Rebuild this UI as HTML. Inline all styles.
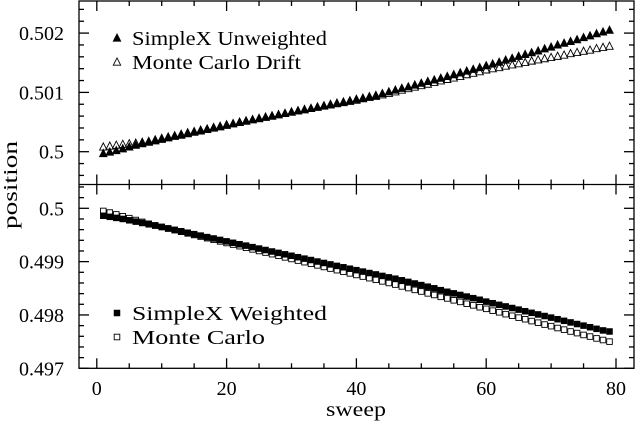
<!DOCTYPE html>
<html><head><meta charset="utf-8"><style>
html,body{margin:0;padding:0;background:#fff;}
svg{display:block;font-family:"Liberation Serif",serif;}
</style></head><body>
<svg id="chart" width="636" height="427" viewBox="0 0 636 427" xmlns="http://www.w3.org/2000/svg">
<g id="axes"></g>
<g id="marks"></g>
<g id="labels"></g>
</svg>
<script>
// sweep index values
const sweeps = Array.from({length:79},(_, i)=>i+1);
// Top panel: offsets from 0.5 in units of 1e-5
const unweightedE5 = [-3,-0.5,2,5,8,11,13.5,16,18.5,21,23.5,26,28,30.5,33,35,37.5,40,42,44.5,47,49.5,51.5,54,56,58,60,62.5,64.5,67,69,71,73,75.5,77.5,80,82,84,86,88.5,90.5,93,95,98,
101,104,107,109.5,112.5,115.5,118.5,121,124,127,130,133,136,139,142,145,
148,151,154.5,157.5,161,164,167,170,173.5,176.5,180,183,186,189,192.5,195.5,199,202,205];
const driftE5 = [8,9.5,11,12.5,13.5,14.5,16,17.5,20,22.5,25,27,29.5,32,34,36.5,38.5,41,43,45.5,47.5,50,52,54,56,58.5,60.5,62.5,64.5,67,69,71,73,75,77,79,81,83,85,87,89.5,91.5,93.5,96,
98.5,101,104,106.5,109,111.5,114,117,119.5,122,124.5,127,130,132.5,135,138,
140,142,144.5,146.5,148.5,150.5,153,155,157,159,161,163,165.5,167.5,169.5,171.5,174,176,178];
// Bottom panel: offsets from 0.5 in units of 1e-5
const weightedE5 = [-14,-16,-18,-20,-22.5,-25,-27.5,-30,-32.5,-35,
-37.7,-40.4,-43,-45.8,-48.5,-51.2,-54,-56.6,-59.3,-62,-64.7,-67.4,-70,-72.8,-75.5,-78.2,-81,-83.6,-86.3,-89,-91.7,-94.4,-97,-99.8,-102.5,-105.2,-108,-110.6,-113.3,-116,-118.7,-121.4,-124,-126.8,-129.5,-132,
-135,-138,-141,-144,-147,-150,-153.5,-156.5,-159.5,-162.5,-165.5,-168.5,-171.5,-175,-178,-181,-184,-187,-190,-193,-196,-199,-202,-205,-208,-211,-214,-217,-220,-223,-226,-229,-231];
const monteCarloE5 = [-5,-8,-11.5,-15,-18.5,-22,-25.5,-29,
-32,-35,-38,-41,-44,-47,-50,-53,-56,-59,-62,-65,-68,-71,-74,-77,-80,-83,-86,-89,-92,-95,-98,-101,-104,-107,-110,-113,-116,-119,-122,-125,-128,-131,-134,-137,-140,-143,
-146.5,-149.5,-153,-156,-159.5,-162.5,-166,-169,-172.5,-175.5,-179,-182,-185.5,-188.5,-192,-195,-198.5,-201.5,-205,-208,-211.5,-214.5,-218,-221,-224.5,-227.5,-231,-234,-237.5,-240.5,-244,-247,-250];
const xTickLabels = ["0","20","40","60","80"];
const topTickLabels = ["0.5","0.501","0.502"];
const botTickLabels = ["0.497","0.498","0.499","0.5"];

const NS="http://www.w3.org/2000/svg";
const L=79,R=634,T=1,M=184.5,B=368.3;
const X=v=>96.8+6.49*v;
const YT=v=>151.7-(v-0.5)*59300;
const YB=v=>208.3-(v-0.5)*53330;
function mk(tag,attrs,parent){const e=document.createElementNS(NS,tag);for(const k in attrs)e.setAttribute(k,attrs[k]);parent.appendChild(e);return e;}
const axes=document.getElementById('axes'),marks=document.getElementById('marks'),labels=document.getElementById('labels');
const st={stroke:'#000','stroke-width':1.3,fill:'none'};
let fr=mk('rect',Object.assign({x:L,y:T,width:R-L,height:B-T},st),axes);


let mid=mk('line',Object.assign({x1:L,x2:R,y1:M,y2:M},st),axes);


for(let v=0;v<=80;v+=5){
  const major=v%20===0, len=major?10:5, x=X(v);
  [[T,1],[M,-1],[M,1],[B,-1]].forEach(([y,d])=>{
    const t=mk('line',Object.assign({x1:x,x2:x,y1:y,y2:y+d*len},st),axes);
    
    
  });
}
function yTicks(lo,hi,f,top,bot){
  for(let i=Math.round(lo/0.0002);i<=Math.round(hi/0.0002);i++){
    const v=i*0.0002,y=f(v);if(y<top-0.5||y>bot+0.5)continue;
    const major=Math.abs(v*1000-Math.round(v*1000))<1e-6,len=major?10:5;
    [[L,1],[R,-1]].forEach(([x,d])=>{
      const t=mk('line',Object.assign({x1:x,x2:x+d*len,y1:y,y2:y},st),axes);
      
      
    });
  }
}
yTicks(0.4994,0.5026,YT,T,M);
yTicks(0.4968,0.5006,YB,M,B);
function txt(s,x,y,anchor,name,extra){const e=mk('text',Object.assign({x:x,y:y,'text-anchor':anchor,'font-size':20,fill:'#000'},extra||{}),labels);e.textContent=s;
  
  
  return e;}
const fit={lengthAdjust:'spacingAndGlyphs'};
xTickLabels.forEach(s=>txt(s,X(+s),395,'middle','x-tick-label'));
topTickLabels.forEach(s=>txt(s,64,YT(+s)+7,'end','y-tick-label'));
botTickLabels.forEach(s=>txt(s,64,YB(+s)+7,'end','y-tick-label'));
txt('sweep',356,416,'middle','x-axis-title',Object.assign({textLength:60},fit));
txt('position',0,0,'middle','y-axis-title',Object.assign({transform:'translate(17,185) rotate(-90)',textLength:88},fit));
function tri(x,y,filled,name){const s=3.7;const p=mk('polygon',{points:`${x-s},${y+s*0.85} ${x+s},${y+s*0.85} ${x},${y-s*1.1}`,fill:filled?'#000':'#fff',stroke:'#000','stroke-width':0.9},marks);
  
  }
function sq(x,y,filled,name){const s=2.8;const p=mk('rect',{x:x-s,y:y-s,width:2*s,height:2*s,fill:filled?'#000':'#fff',stroke:'#000','stroke-width':0.9},marks);
  
  }
sweeps.forEach((s,i)=>{tri(X(s),YT(0.5+driftE5[i]*1e-5),false,'drift-point');});
sweeps.forEach((s,i)=>{tri(X(s),YT(0.5+unweightedE5[i]*1e-5),true,'unweighted-point');});
sweeps.forEach((s,i)=>{sq(X(s),YB(0.5+monteCarloE5[i]*1e-5),false,'monte-carlo-point');});
sweeps.forEach((s,i)=>{sq(X(s),YB(0.5+weightedE5[i]*1e-5),true,'weighted-point');});
tri(117,38,true,'legend-unweighted-marker');
txt('SimpleX Unweighted',132,45,'start','legend-unweighted-label',Object.assign({textLength:195},fit));
tri(117,62,false,'legend-drift-marker');
txt('Monte Carlo Drift',132,69,'start','legend-drift-label',Object.assign({textLength:169},fit));
sq(117,313,true,'legend-weighted-marker');
txt('SimpleX Weighted',132,320,'start','legend-weighted-label',Object.assign({textLength:195},fit));
sq(117,337,false,'legend-monte-carlo-marker');
txt('Monte Carlo',132,344,'start','legend-monte-carlo-label',Object.assign({textLength:133},fit));
</script>
</body></html>
